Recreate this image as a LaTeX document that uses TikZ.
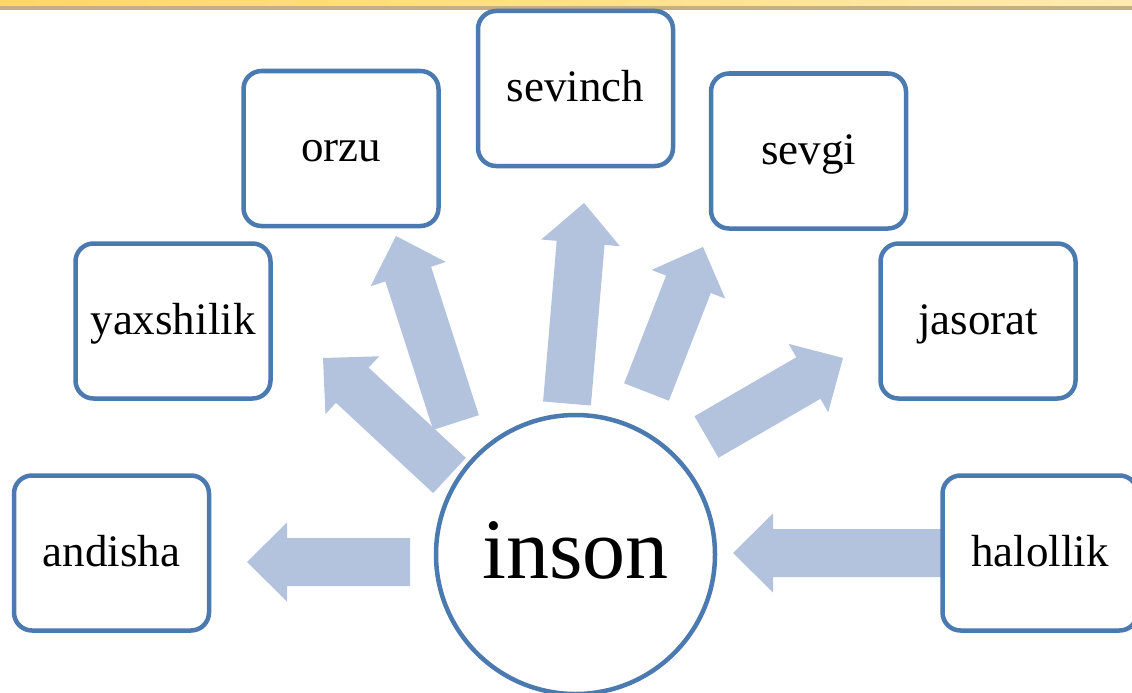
\documentclass[tikz,border=0pt]{standalone}
\usepackage{fontspec}
\setmainfont{Liberation Serif}
\usetikzlibrary{calc}
\definecolor{boxblue}{HTML}{4A7AB0}
\definecolor{arrowfill}{HTML}{B3C3DD}
\definecolor{barA}{HTML}{FFD762}
\definecolor{barB}{HTML}{FFEAB0}
\definecolor{barline}{HTML}{C2B080}
\newcommand\blockarrow[2]{%
  \coordinate (ba-n) at ($(#2)!40pt!(#1)$);
  \fill[arrowfill] ($(#1)!24pt!90:(#2)$) -- ($(ba-n)!24pt!90:(#2)$) -- ($(ba-n)!39.5pt!90:(#2)$) -- (#2)
    -- ($(ba-n)!39.5pt!-90:(#2)$) -- ($(ba-n)!24pt!-90:(#2)$) -- ($(#1)!24pt!-90:(#2)$) -- cycle;}
\begin{document}
\begin{tikzpicture}[x=1pt,y=-1pt,
  wordbox/.style={draw=boxblue, line width=4.5pt, rounded corners=18pt, fill=white,
    minimum width=195pt, minimum height=155pt, inner sep=0pt,
    font=\fontsize{45}{54}\selectfont, text height=36pt, text depth=10pt},
  hub/.style={circle, draw=boxblue, line width=4.5pt, fill=white, minimum size=279pt, inner sep=0pt,
    font=\fontsize{86}{100}\selectfont, text height=70pt, text depth=23pt}]
\clip (0,0) rectangle (1132,693);
\fill[white] (0,0) rectangle (1132,693);
% top bar
\fill[left color=barA, right color=barB] (0,0) rectangle (1132,6.5);
\fill[barline] (0,6.5) rectangle (1132,10.5);
% arrow ends
\coordinate (t1) at (410,562);   \coordinate (h1) at (247,562);
\coordinate (t2) at (449.5,475.5); \coordinate (h2) at (323,358);
\coordinate (t3) at (456,422.5); \coordinate (h3) at (396,236);
\coordinate (t4) at (567,403.5); \coordinate (h4) at (584,203);
\coordinate (t5) at (646.5,392); \coordinate (h5) at (703,247);
\coordinate (t6) at (706.5,437); \coordinate (h6) at (843,358);
\coordinate (t7) at (965,553);   \coordinate (h7) at (733,553);
\blockarrow{t1}{h1}
\blockarrow{t2}{h2}
\blockarrow{t3}{h3}
\blockarrow{t4}{h4}
\blockarrow{t5}{h5}
\blockarrow{t6}{h6}
\blockarrow{t7}{h7}
% hub
\node[hub] (inson) at (575.5,554.5) {inson};
% boxes
\node[wordbox] (andisha) at (111.5,553) {andisha};
\node[wordbox] (halollik) at (1040,553) {halollik};
\node[wordbox] (yaxshilik) at (173,321) {yaxshilik};
\node[wordbox] (jasorat) at (978,321) {jasorat};
\node[wordbox] (orzu) at (341,148.5) {orzu};
\node[wordbox] (sevinch) at (575.5,88.5) {sevinch};
\node[wordbox] (sevgi) at (808.5,151) {sevgi};
\end{tikzpicture}
\end{document}
